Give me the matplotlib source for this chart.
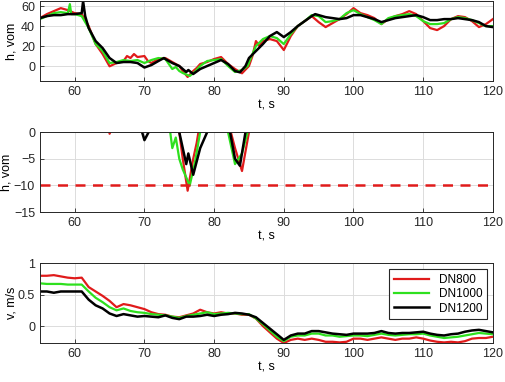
import matplotlib
matplotlib.use('Agg')
import matplotlib.pyplot as plt
import numpy as np

plt.rcParams['font.family'] = ['Liberation Sans', 'DejaVu Sans']
plt.rcParams['font.size'] = 9

# напор h (одни и те же данные для верхнего и среднего графика)
t_red = [55, 56, 57, 58, 59, 60, 61, 62, 63, 64, 65, 66, 67, 67.5, 68, 68.5, 69, 70, 70.5, 71, 72, 73, 74, 75,
         75.5, 76.2, 77, 77.5, 78, 79, 80, 81, 82, 83, 84, 85, 85.5, 86, 86.5, 87, 88, 89, 90, 91, 92, 93, 94,
         95, 96, 97, 98, 99, 100, 101, 102, 103, 104, 105, 106, 107, 108, 109, 110, 111, 112, 113, 114, 115,
         116, 117, 118, 119, 120]
h_red = [48, 52, 55, 58, 56, 53, 52, 40, 22, 12, -0.3, 3, 5, 10, 8, 12, 9, 10, 5, 3, 7, 8, 4, 0,
         -5, -11, -5, -2, 2, 4, 7, 9, 2, -3, -7.3, 0, 10, 25, 20, 25, 27, 25, 16, 30, 40, 45, 50,
         44, 39, 43, 47, 52, 58, 53, 51, 48, 42, 47, 50, 52, 55, 52, 45, 38, 36, 40, 47, 50,
         49, 45, 39, 42, 47]

t_green = [55, 56, 57, 58, 59, 59.3, 59.5, 60, 61, 62, 63, 64, 65, 66, 67, 68, 69, 70, 71, 72, 73, 73.7,
           74, 74.5, 75, 75.5, 76.5, 77.2, 78, 79, 80, 81, 82, 83, 84, 84.8, 85.5, 86, 87, 88, 89, 90, 91,
           92, 93, 94, 95, 96, 97, 98, 99, 100, 101, 102, 103, 104, 105, 106, 107, 108, 109, 110, 111,
           112, 113, 114, 115, 116, 117, 118, 119, 120]
h_green = [47, 50, 53, 54, 53, 62, 52, 52, 50, 38, 22, 15, 3, 4, 6, 5, 6, 3, 6, 8, 7, 0,
           -3, -1, -5, -7, -10, -6, 0, 5, 6, 7, 0, -6, -4, 0, 12, 20, 27, 30, 28, 22, 32,
           40, 45, 51, 50, 44, 45, 47, 53, 56, 52, 49, 46, 42, 48, 50, 51, 52, 50, 45, 42,
           42, 43, 47, 49, 48, 46, 43, 40, 40]

t_black = [55, 56, 57, 58, 59, 60, 61, 61.2, 61.5, 62, 63, 64, 65, 66, 67, 68, 69, 70, 71, 72, 72.8, 73,
           74, 75, 76, 76.3, 77, 78, 79, 80, 81, 82, 83, 83.7, 84.5, 85, 86, 87, 88, 89, 90, 91, 92, 93,
           94, 94.5, 95, 96, 97, 98, 99, 100, 101, 102, 103, 104, 105, 106, 107, 108, 109, 110, 111,
           112, 113, 114, 115, 116, 117, 118, 119, 120]
h_black = [48, 50, 51, 51, 52, 52, 53, 65, 50, 38, 25, 18, 8, 3, 4, 4, 3, -1.5, 1, 5, 8, 7,
           3, 0, -6, -4, -8, -3, 0, 3, 6, 2, -5, -6.3, 0, 8, 15, 22, 30, 34, 29, 34, 40, 45,
           50, 52, 51, 49, 48, 47, 48, 51, 51, 49, 47, 44, 46, 48, 49, 50, 51, 49, 46,
           46, 47, 47, 48, 47, 46, 44, 40, 39]

# скорость v
t_v = [55, 56, 57, 58, 59, 60, 61, 62, 63, 64, 65, 66, 67, 68, 69, 70, 71, 72, 73, 74, 75, 76, 77, 78, 79,
       80, 81, 82, 83, 84, 85, 86, 87, 88, 89, 90, 91, 92, 93, 94, 95, 96, 97, 98, 99, 100, 101, 102,
       103, 104, 105, 106, 107, 108, 109, 110, 111, 112, 113, 114, 115, 116, 117, 118, 119, 120]
v_red = [0.80, 0.80, 0.81, 0.79, 0.77, 0.76, 0.77, 0.62, 0.55, 0.48, 0.40, 0.30, 0.35, 0.33, 0.30, 0.27,
         0.22, 0.19, 0.18, 0.15, 0.14, 0.17, 0.20, 0.26, 0.22, 0.20, 0.22, 0.20, 0.20, 0.18, 0.18, 0.12,
         0.0, -0.10, -0.20, -0.27, -0.22, -0.20, -0.22, -0.20, -0.22, -0.25, -0.25, -0.26, -0.25, -0.20,
         -0.20, -0.22, -0.20, -0.18, -0.20, -0.22, -0.20, -0.20, -0.18, -0.20, -0.23, -0.25, -0.26, -0.25,
         -0.26, -0.24, -0.20, -0.19, -0.19, -0.17]
v_green = [0.68, 0.67, 0.67, 0.67, 0.66, 0.66, 0.66, 0.55, 0.45, 0.38, 0.30, 0.25, 0.28, 0.24, 0.22, 0.21,
           0.19, 0.18, 0.17, 0.15, 0.13, 0.16, 0.18, 0.20, 0.22, 0.19, 0.20, 0.21, 0.20, 0.19, 0.19, 0.12,
           0.03, -0.07, -0.17, -0.24, -0.17, -0.15, -0.15, -0.12, -0.12, -0.15, -0.15, -0.17, -0.16, -0.15,
           -0.15, -0.16, -0.14, -0.12, -0.14, -0.15, -0.14, -0.13, -0.13, -0.12, -0.15, -0.17, -0.19, -0.18,
           -0.17, -0.15, -0.13, -0.11, -0.12, -0.13]
v_black = [0.55, 0.55, 0.53, 0.55, 0.55, 0.55, 0.55, 0.42, 0.33, 0.28, 0.20, 0.16, 0.19, 0.17, 0.15, 0.16,
           0.15, 0.14, 0.17, 0.13, 0.11, 0.15, 0.15, 0.16, 0.18, 0.16, 0.18, 0.19, 0.21, 0.20, 0.18, 0.14,
           0.05, -0.04, -0.13, -0.22, -0.15, -0.12, -0.12, -0.08, -0.08, -0.10, -0.12, -0.13, -0.14, -0.12,
           -0.12, -0.12, -0.11, -0.08, -0.11, -0.12, -0.11, -0.11, -0.10, -0.09, -0.12, -0.14, -0.15, -0.13,
           -0.12, -0.09, -0.07, -0.06, -0.08, -0.10]

h_limit = -10
labels = ['DN800', 'DN1000', 'DN1200']
colors = ['#e01b1b', '#2ee01e', '#000000']

fig = plt.figure(figsize=(5.05, 3.82), dpi=100)
ax1 = fig.add_axes([0.079, 0.788, 0.897, 0.209])
ax2 = fig.add_axes([0.079, 0.445, 0.897, 0.209])
ax3 = fig.add_axes([0.079, 0.102, 0.897, 0.209])

for ax in [ax1, ax2]:
    ax.plot(t_red, h_red, color=colors[0], lw=1.6)
    ax.plot(t_green, h_green, color=colors[1], lw=1.6)
    ax.plot(t_black, h_black, color=colors[2], lw=1.8)
    ax.set_ylabel('h, vom')

ax2.axhline(h_limit, color=colors[0], lw=1.8, ls=(0, (4, 3)))

ax3.plot(t_v, v_red, color=colors[0], lw=1.6, label=labels[0])
ax3.plot(t_v, v_green, color=colors[1], lw=1.6, label=labels[1])
ax3.plot(t_v, v_black, color=colors[2], lw=1.8, label=labels[2])
ax3.set_ylabel('v, m/s')
leg = ax3.legend(loc='upper right', fancybox=False, edgecolor='#262626', framealpha=1,
                 fontsize=8.5, handlelength=3, borderpad=0.4, labelspacing=0.2)
leg.get_frame().set_linewidth(0.8)

ax1.set_ylim(-15, 65)
ax1.set_yticks([0, 20, 40, 60])
ax2.set_ylim(-15, 0)
ax2.set_yticks([-15, -10, -5, 0])
ax3.set_ylim(-0.27, 1)
ax3.set_yticks([0, 0.5, 1])
ax3.set_yticklabels(['0', '0.5', '1'])

for ax in [ax1, ax2, ax3]:
    ax.set_xlim(55, 120)
    ax.set_xticks(range(60, 121, 10))
    ax.set_xlabel('t, s', labelpad=1)
    ax.yaxis.set_label_coords(-0.05, 0.5)
    ax.grid(True, color='#dcdcdc', lw=0.7)
    ax.set_axisbelow(True)
    ax.tick_params(direction='in', length=3, colors='#262626', labelsize=9, width=0.6)
    for s in ax.spines.values():
        s.set_color('#262626')
        s.set_linewidth(0.7)
ax2.yaxis.set_label_coords(-0.06, 0.5)

fig.savefig('out.png', dpi=100)
